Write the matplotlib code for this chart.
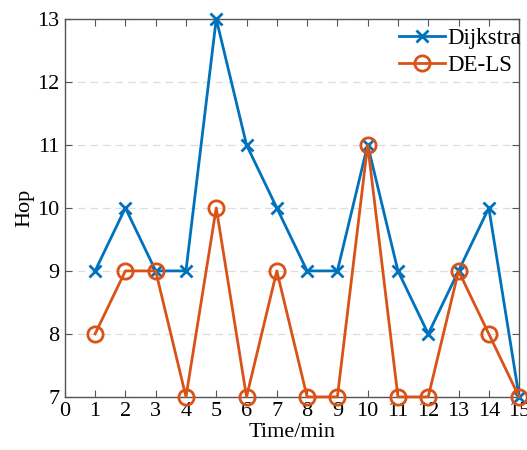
import matplotlib
matplotlib.use("Agg")
import matplotlib.pyplot as plt

x = list(range(1, 16))
dijkstra = [9, 10, 9, 9, 13, 11, 10, 9, 9, 11, 9, 8, 9, 10, 7]
dels = [8, 9, 9, 7, 10, 7, 9, 7, 7, 11, 7, 7, 9, 8, 7]
xticks = list(range(0, 16))
yticks = list(range(7, 14))

plt.rcParams['font.family'] = ['Liberation Serif', 'DejaVu Serif']
fig = plt.figure(figsize=(5.27, 4.5), dpi=100)
ax = fig.add_axes([0.123, 0.118, 0.862, 0.84])

ax.plot(x, dijkstra, color='#0072BD', lw=2, marker='x', ms=9, mew=2, label='Dijkstra', clip_on=False, zorder=3)
ax.plot(x, dels, color='#D95319', lw=2, marker='o', ms=11, mfc='none', mew=2, label='DE-LS', clip_on=False, zorder=4)

ax.set_xlim(0, 15)
ax.set_ylim(7, 13)
ax.set_xticks(xticks)
ax.set_yticks(yticks)
ax.yaxis.grid(True, ls=(0, (6, 4)), color='#dddddd', lw=0.9)
ax.set_axisbelow(True)
ax.tick_params(direction='in', top=True, right=True, labelsize=16, length=5, color='#555555', pad=4)
for s in ax.spines.values():
    s.set_color('#555555')
    s.set_linewidth(1)
ax.set_xlabel('Time/min', fontsize=16, labelpad=1)
ax.set_ylabel('Hop', fontsize=16, labelpad=2)
leg = ax.legend(loc='upper right', frameon=False, fontsize=16.5, handlelength=2.0,
                borderaxespad=0.0, labelspacing=0.25, handletextpad=0.1,
                bbox_to_anchor=(1.025, 1.0))
fig.savefig('out.png', dpi=100)
